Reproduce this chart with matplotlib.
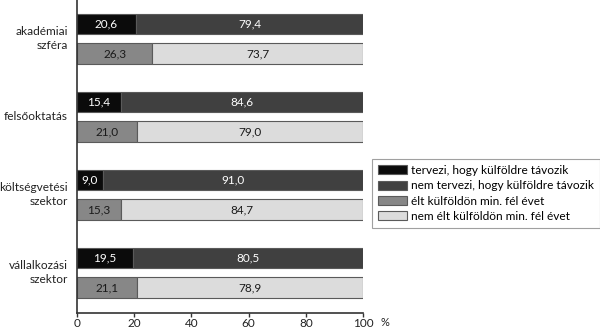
import matplotlib
matplotlib.use("Agg")
import matplotlib.pyplot as plt
from matplotlib.patches import Patch

categories = ["akadémiai\nszféra", "felsőoktatás", "költségvetési\nszektor", "vállalkozási\nszektor"]
tervezi = [20.6, 15.4, 9.0, 19.5]
nem_tervezi = [79.4, 84.6, 91.0, 80.5]
elt = [26.3, 21.0, 15.3, 21.1]
nem_elt = [73.7, 79.0, 84.7, 78.9]
series_labels = ["tervezi, hogy külföldre távozik", "nem tervezi, hogy külföldre távozik",
                 "élt külföldön min. fél évet", "nem élt külföldön min. fél évet"]
colors = ["#0b0b0b", "#404040", "#878787", "#dcdcdc"]
text_colors = ["white", "white", "#1a1a1a", "#1a1a1a"]
xticks = [0, 20, 40, 60, 80, 100]

plt.rcParams['font.family'] = ['Lato', 'DejaVu Sans']

fig = plt.figure(figsize=(6.0, 3.28), dpi=100)
ax = fig.add_axes([77/600, 1 - 313/328, (363-77)/600, 313/328])

def fmt(v):
    return f"{v:.1f}".replace(".", ",")

h = 0.263
for i in range(len(categories)):
    c = i + 0.497
    yt = c - 0.19
    yb = c + 0.19
    pairs = [(yt, tervezi[i], nem_tervezi[i], 0, 1), (yb, elt[i], nem_elt[i], 2, 3)]
    for y, a, b, ka, kb in pairs:
        ax.barh(y, a, height=h, left=0, color=colors[ka], edgecolor="#5a5a5a", linewidth=0.8)
        ax.barh(y, b, height=h, left=a, color=colors[kb], edgecolor="#5a5a5a", linewidth=0.8)
        ax.text(a/2, y, fmt(a), ha="center", va="center", fontsize=8.5, color=text_colors[ka])
        ax.text(a + b/2, y, fmt(b), ha="center", va="center", fontsize=8.5, color=text_colors[kb])
    ax.text(-3.2, c, categories[i], ha="right", va="center", fontsize=8.6,
            color="#222222", linespacing=1.3)

ax.set_xlim(0, 100)
ax.set_ylim(313/78, 0)
ax.set_yticks([])
ax.set_xticks(xticks)
ax.set_xticklabels([str(t) for t in xticks], fontsize=8.5, color="#222222")
ax.tick_params(axis="x", length=3, width=1, color="#333333", pad=0.5)
for s in ["top", "right"]:
    ax.spines[s].set_visible(False)
ax.spines["left"].set_color("#333333")
ax.spines["bottom"].set_color("#333333")
ax.spines["left"].set_linewidth(1.2)
ax.spines["bottom"].set_linewidth(1.2)
ax.text(107.5, -0.013, "%", transform=ax.get_xaxis_transform(), ha="center", va="top",
        fontsize=8, color="#222222")

handles = [Patch(facecolor=colors[k], edgecolor="#5a5a5a", linewidth=0.8) for k in range(4)]
leg = fig.legend(handles, series_labels, loc="upper left", bbox_to_anchor=(372/600, 1 - 159/328),
                 fontsize=8.6, frameon=True, fancybox=False, edgecolor="#888888",
                 handlelength=2.4, handleheight=0.8, handletextpad=0.4, labelspacing=0.36,
                 borderpad=0.5, borderaxespad=0)
leg.get_frame().set_linewidth(0.8)

fig.savefig("out.png", dpi=100)
